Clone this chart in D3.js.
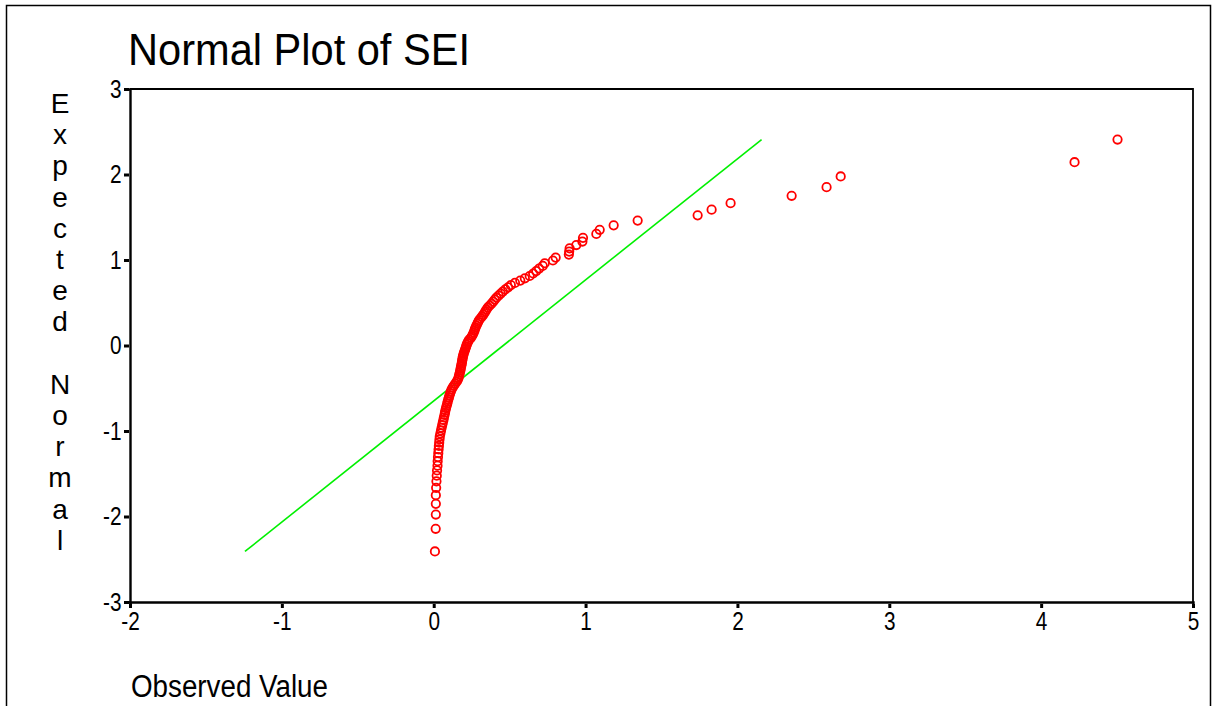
<!DOCTYPE html>
<html>
<head>
<meta charset="utf-8">
<script src="https://cdn.jsdelivr.net/npm/d3@7"></script>
<style>
  html, body { margin: 0; padding: 0; background: #ffffff; }
  svg { display: block; font-family: "Liberation Sans", Arial, Helvetica, sans-serif; }
</style>
</head>
<body>
<svg id="chart" width="1216" height="706"></svg>
<script>
// Normal probability plot of SEI: sorted observed values against expected normal scores.
const observedValue = [
  0.008, 0.013, 0.014, 0.014, 0.014, 0.016, 0.018, 0.020, 0.022, 0.025,
  0.026, 0.028, 0.030, 0.032, 0.034, 0.036, 0.038, 0.040, 0.044, 0.048,
  0.052, 0.056, 0.060, 0.064, 0.067, 0.071, 0.074, 0.077, 0.081, 0.085,
  0.089, 0.092, 0.096, 0.100, 0.104, 0.108, 0.113, 0.118, 0.125, 0.133,
  0.142, 0.151, 0.158, 0.163, 0.166, 0.169, 0.172, 0.175, 0.177, 0.179,
  0.182, 0.184, 0.186, 0.188, 0.190, 0.192, 0.195, 0.198, 0.202, 0.206,
  0.210, 0.214, 0.217, 0.222, 0.228, 0.234, 0.245, 0.252, 0.258, 0.263,
  0.268, 0.271, 0.276, 0.281, 0.287, 0.292, 0.298, 0.307, 0.317, 0.326,
  0.334, 0.341, 0.348, 0.357, 0.369, 0.381, 0.392, 0.402, 0.413, 0.427,
  0.441, 0.455, 0.472, 0.490, 0.508, 0.535, 0.570, 0.600, 0.632, 0.655,
  0.675, 0.694, 0.718, 0.731, 0.785, 0.803, 0.890, 0.892, 0.895, 0.939,
  0.979, 0.983, 1.071, 1.093, 1.185, 1.343, 1.738, 1.830, 1.955, 2.357,
  2.587, 2.680, 4.220, 4.503
];

const expectedNormal = [
  -2.409, -2.144, -1.977, -1.852, -1.751, -1.665, -1.589, -1.522, -1.461, -1.405,
  -1.353, -1.305, -1.259, -1.216, -1.175, -1.136, -1.098, -1.063, -1.028, -0.994,
  -0.962, -0.931, -0.900, -0.870, -0.842, -0.813, -0.786, -0.759, -0.732, -0.706,
  -0.681, -0.656, -0.631, -0.607, -0.583, -0.559, -0.536, -0.513, -0.490, -0.468,
  -0.445, -0.423, -0.401, -0.380, -0.358, -0.337, -0.316, -0.295, -0.275, -0.253,
  -0.233, -0.213, -0.192, -0.172, -0.151, -0.131, -0.111, -0.090, -0.070, -0.050,
  -0.030, -0.010, 0.010, 0.030, 0.050, 0.070, 0.090, 0.111, 0.131, 0.151,
  0.172, 0.192, 0.213, 0.233, 0.253, 0.275, 0.295, 0.316, 0.337, 0.358,
  0.380, 0.401, 0.423, 0.445, 0.468, 0.490, 0.513, 0.536, 0.559, 0.583,
  0.607, 0.631, 0.656, 0.681, 0.706, 0.732, 0.759, 0.786, 0.813, 0.842,
  0.870, 0.900, 0.931, 0.962, 0.994, 1.028, 1.063, 1.098, 1.136, 1.175,
  1.216, 1.259, 1.305, 1.353, 1.405, 1.461, 1.522, 1.589, 1.665, 1.751,
  1.852, 1.977, 2.144, 2.409
];

// Reference normal line (observed = mean + sd * z), given by its two end points
const refLineObserved = [-1.243, 2.159];
const refLineExpected = [-2.409, 2.409];

const xTicks = [-2, -1, 0, 1, 2, 3, 4, 5];
const yTicks = [-3, -2, -1, 0, 1, 2, 3];

const titleText = "Normal Plot of SEI";
const xTitle = "Observed Value";
const yTitle = "Expected Normal";

const svg = d3.select("#chart");
const plot = { left: 130, right: 1193, top: 89, bottom: 602 };

const x = d3.scaleLinear().domain([-2, 5]).range([plot.left, plot.right]);
const y = d3.scaleLinear().domain([-3, 3]).range([plot.bottom, plot.top]);

// Outer frame (open at the bottom edge of the page)
svg.append("path")
  .attr("d", "M6.5,706 V5.5 H1210.5 V706")
  .attr("fill", "none")
  .attr("stroke", "#000")
  .attr("stroke-width", 1.5);

// Title
svg.append("text")
  .attr("x", 128).attr("y", 65)
  .attr("font-size", 44)
  .attr("textLength", 342)
  .attr("lengthAdjust", "spacingAndGlyphs")
  .attr("fill", "#000")
  .text(titleText);

// Plot box: top and right edges
svg.append("path")
  .attr("d", `M${plot.left},${plot.top} H${plot.right} V${plot.bottom}`)
  .attr("fill", "none")
  .attr("stroke", "#000")
  .attr("stroke-width", 1.8);

// Axes (plain hyphen-minus in the labels)
const fmt = d => String(d);
const xAxis = d3.axisBottom(x).tickValues(xTicks).tickFormat(fmt)
  .tickSizeOuter(0).tickSize(6).tickPadding(4);
const yAxis = d3.axisLeft(y).tickValues(yTicks).tickFormat(fmt)
  .tickSizeOuter(0).tickSize(5).tickPadding(3);

const gx = svg.append("g").attr("transform", `translate(0,${plot.bottom})`).call(xAxis);
const gy = svg.append("g").attr("transform", `translate(${plot.left},0)`).call(yAxis);

[gx, gy].forEach(g => {
  g.select(".domain").attr("stroke", "#000").attr("stroke-width", 2.4);
  g.selectAll(".tick line").attr("stroke", "#000").attr("stroke-width", 3);
  g.selectAll(".tick text")
    .attr("fill", "#000")
    .attr("font-size", 26)
    .attr("font-family", "'Liberation Sans', Arial, sans-serif");
});
gx.selectAll(".tick line").attr("y1", 2);
gx.selectAll(".tick text").attr("transform", "scale(0.8,1)");
gy.selectAll(".tick line").attr("x1", -1).attr("x2", -6);
gy.selectAll(".tick text").attr("transform", "translate(-2,0) scale(0.8,1)");

// Axis titles
svg.append("text")
  .attr("x", 131).attr("y", 697)
  .attr("font-size", 31)
  .attr("textLength", 197)
  .attr("lengthAdjust", "spacingAndGlyphs")
  .attr("fill", "#000")
  .text(xTitle);

svg.append("g").selectAll("text")
  .data(yTitle.split(""))
  .join("text")
  .attr("x", 60)
  .attr("y", (d, i) => 113 + i * 31.2)
  .attr("text-anchor", "middle")
  .attr("font-size", 28)
  .attr("fill", "#000")
  .text(d => d);

// Reference line
svg.append("line")
  .attr("x1", x(refLineObserved[0])).attr("y1", y(refLineExpected[0]))
  .attr("x2", x(refLineObserved[1])).attr("y2", y(refLineExpected[1]))
  .attr("stroke", "#00f000")
  .attr("stroke-width", 1.6);

// Observations
svg.append("g").selectAll("circle")
  .data(observedValue.map((v, i) => ({ v, z: expectedNormal[i] })))
  .join("circle")
  .attr("cx", d => x(d.v))
  .attr("cy", d => y(d.z))
  .attr("r", 4.2)
  .attr("fill", "none")
  .attr("stroke", "#ff0000")
  .attr("stroke-width", 1.8);
</script>
</body>
</html>
